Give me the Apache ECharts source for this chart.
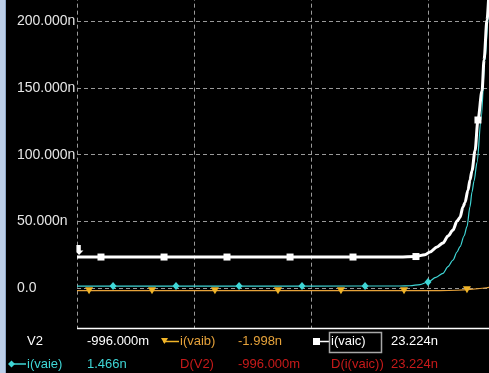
<!DOCTYPE html>
<html><head><meta charset="utf-8">
<script src="https://cdn.jsdelivr.net/npm/echarts@6/dist/echarts.min.js"></script>
<style>html,body{margin:0;padding:0;background:#000;}#c{width:489px;height:373px;}</style>
</head><body><div id="c"></div>
<script>
// ---- data (x: V2 in volts, y: current in nA) ----
var yTicks = [0, 50, 100, 150, 200];
var vaicCurve = [[-4.0,23.224],[-2.0,23.224],[-1.24,23.3],[-1.11,23.6],[-1.026,25.0],[-0.983,27.0],[-0.923,30.8],[-0.872,33.8],[-0.829,39.0],[-0.786,43.5],[-0.752,50.2],[-0.726,53.0],[-0.701,61.0],[-0.684,64.0],[-0.658,73.5],[-0.641,81.0],[-0.624,88.0],[-0.598,103.0],[-0.573,126.0],[-0.538,148.0],[-0.521,171.0],[-0.496,201.0],[-0.47,230.0],[-0.45,260.0]];
var vaieCurve = [[-4.0,1.466],[-2.0,1.466],[-1.24,1.5],[-1.154,1.7],[-1.068,2.5],[-1.0,4.5],[-0.932,8.0],[-0.872,11.0],[-0.829,16.0],[-0.786,21.0],[-0.752,27.0],[-0.726,31.0],[-0.692,39.0],[-0.667,46.0],[-0.641,61.0],[-0.624,72.0],[-0.607,80.0],[-0.581,94.0],[-0.547,126.0],[-0.513,171.0],[-0.487,201.0],[-0.462,235.0],[-0.44,265.0]];
var vaibCurve = [[-4.0,-1.998],[-2.0,-1.998],[-0.9,-1.95],[-0.75,-1.7],[-0.64,-1.1],[-0.5,0.2],[-0.46,0.8]];
var vaibMarks = [[-3.897,-1.998],[-3.359,-1.998],[-2.821,-1.998],[-2.282,-1.998],[-1.744,-1.998],[-1.205,-1.998],[-0.667,-1.3]];
var vaicMarks = [[-3.795,23.224],[-3.256,23.224],[-2.718,23.224],[-2.179,23.224],[-1.641,23.224],[-1.103,23.6],[-0.573,126.0]];
var vaieMarks = [[-3.692,1.466],[-3.154,1.466],[-2.615,1.466],[-2.077,1.466],[-1.538,1.466],[-1.0,4.5],[-0.462,235.0]];
var cursorMark = [[-3.975,28.5]];
var readout = {
  row1: ['V2', '-996.000m', 'i(vaib)', '-1.998n', 'i(vaic)', '23.224n'],
  row2: ['i(vaie)', '1.466n', 'D(V2)', '-996.000m', 'D(i(vaic))', '23.224n']
};

var WHITE = '#ffffff', CYAN = '#3fd6d6', ORANGE = '#e6a23a', OMARK = '#f0b428', RED = '#c81a1a', GRID = '#9a9a9a';
var FONT = '13px "Liberation Sans", Arial, sans-serif';

var chart = echarts.init(document.getElementById('c'), null, {renderer: 'canvas'});
var option = {
  backgroundColor: '#000',
  animation: false,
  grid: {left: 77, top: 288 - 250 * 4 / 3, width: 468, height: 400, containLabel: false, outerBoundsMode: 'none'},
  xAxis: {
    type: 'value', min: -4, max: 0, interval: 1,
    axisLine: {show: false}, axisTick: {show: false}, axisLabel: {show: false},
    splitLine: {show: true, lineStyle: {color: GRID, type: [4, 3], width: 1}}
  },
  yAxis: {
    type: 'value', min: -50, max: 250, interval: 50,
    axisLine: {show: true, lineStyle: {color: WHITE, width: 1.5}},
    axisTick: {show: false},
    axisLabel: {
      show: true, color: '#e6e6e6', fontSize: 14, fontFamily: '"Liberation Sans", Arial, sans-serif',
      align: 'left', margin: 60,
      formatter: function (v) { if (yTicks.indexOf(v) < 0) return ''; return v === 0 ? '0.0' : v.toFixed(3) + 'n'; }
    },
    splitLine: {show: true, lineStyle: {color: GRID, type: [4, 3], width: 1}}
  },
  series: [
    {type: 'line', data: vaibCurve, showSymbol: false, smooth: 0.3, lineStyle: {color: ORANGE, width: 1.2}, z: 2},
    {type: 'line', data: vaieCurve, showSymbol: false, smooth: 0.3, smoothMonotone: 'x', lineStyle: {color: CYAN, width: 1.2}, z: 3},
    {type: 'line', data: vaicCurve, showSymbol: false, smooth: 0.3, smoothMonotone: 'x', lineStyle: {color: WHITE, width: 3}, z: 4},
    {type: 'scatter', data: vaibMarks, symbol: 'triangle', symbolRotate: 180, symbolSize: [8, 7], itemStyle: {color: OMARK, opacity: 1}, z: 5},
    {type: 'scatter', data: vaieMarks, symbol: 'diamond', symbolSize: [7, 8], itemStyle: {color: CYAN, opacity: 1}, z: 5},
    {type: 'scatter', data: vaicMarks, symbol: 'rect', symbolSize: 7, itemStyle: {color: WHITE, opacity: 1}, z: 6},
    {type: 'scatter', data: cursorMark, symbol: 'path://M0,0 L5,0 L5,6 L8,6 L3,11 L0,8 Z', symbolSize: [7, 10], itemStyle: {color: WHITE, opacity: 1}, z: 6}
  ]
};
chart.setOption(option);

var bottomY = Math.round(chart.convertToPixel({yAxisIndex: 0}, -30));
function txt(s, x, y, color) {
  return {type: 'text', z: 110, style: {text: s, x: x, y: y, fill: color, font: FONT, verticalAlign: 'middle', textVerticalAlign: 'middle'}};
}
var r1 = 341.5, r2 = 364;
var graphics = [
  {type: 'rect', z: 100, shape: {x: 0, y: bottomY, width: 489, height: 373 - bottomY}, style: {fill: '#000'}},
  {type: 'line', z: 105, shape: {x1: 77, y1: bottomY + 0.5, x2: 489, y2: bottomY + 0.5}, style: {stroke: WHITE, lineWidth: 1.5}},
  {type: 'rect', z: 120, shape: {x: 0, y: 0, width: 5, height: 373}, style: {fill: '#bccfe9'}},
  {type: 'rect', z: 120, shape: {x: 5, y: 0, width: 1, height: 373}, style: {fill: '#8da6c6'}},
  txt(readout.row1[0], 27, r1, WHITE),
  txt(readout.row1[1], 87, r1, WHITE),
  {type: 'line', z: 110, shape: {x1: 163, y1: r1, x2: 179, y2: r1}, style: {stroke: OMARK, lineWidth: 1.5}},
  {type: 'polygon', z: 111, shape: {points: [[161, 338], [168, 338], [164.5, 344]]}, style: {fill: OMARK}},
  txt(readout.row1[2], 180, r1, ORANGE),
  txt(readout.row1[3], 238, r1, ORANGE),
  {type: 'line', z: 110, shape: {x1: 316, y1: r1, x2: 330, y2: r1}, style: {stroke: WHITE, lineWidth: 1.5}},
  {type: 'rect', z: 111, shape: {x: 313, y: 338, width: 7, height: 7}, style: {fill: WHITE}},
  {type: 'rect', z: 110, shape: {x: 329.5, y: 332.5, width: 52, height: 20}, style: {fill: 'none', stroke: '#a8a8a8', lineWidth: 1.5}},
  txt(readout.row1[4], 331, r1, WHITE),
  txt(readout.row1[5], 391, r1, WHITE),
  {type: 'line', z: 110, shape: {x1: 11, y1: r2, x2: 26, y2: r2}, style: {stroke: CYAN, lineWidth: 1.5}},
  {type: 'polygon', z: 111, shape: {points: [[8, r2], [11.5, r2 - 3.5], [15, r2], [11.5, r2 + 3.5]]}, style: {fill: CYAN}},
  txt(readout.row2[0], 27, r2, CYAN),
  txt(readout.row2[1], 87, r2, CYAN),
  txt(readout.row2[2], 180, r2, RED),
  txt(readout.row2[3], 238, r2, RED),
  txt(readout.row2[4], 331, r2, RED),
  txt(readout.row2[5], 391, r2, RED)
];
chart.setOption({graphic: graphics});
</script>
</body></html>
